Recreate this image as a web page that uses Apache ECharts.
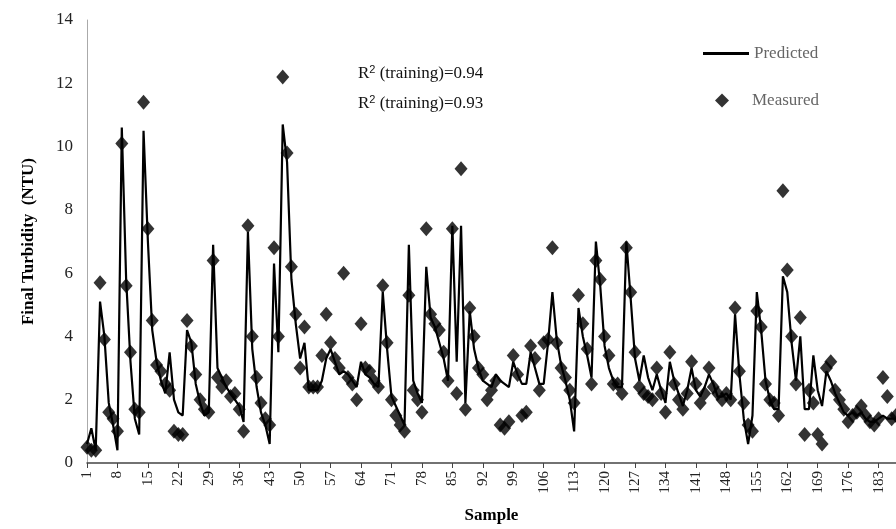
<!DOCTYPE html>
<html>
<head>
<meta charset="utf-8">
<script src="https://cdn.jsdelivr.net/npm/echarts@6/dist/echarts.min.js"></script>
<style>html,body{margin:0;padding:0;background:#fff}#c{width:896px;height:529px}</style>
</head>
<body>
<div id="c"></div>
<script>
// 实测值 (1..187)
let measured = [
    0.5,0.4,0.4,5.7,3.9,1.6,1.4,1.0,10.1,5.6,
    3.5,1.7,1.6,11.4,7.4,4.5,3.1,2.9,2.5,2.3,
    1.0,0.9,0.9,4.5,3.7,2.8,2.0,1.7,1.6,6.4,
    2.7,2.4,2.6,2.1,2.2,1.7,1.0,7.5,4.0,2.7,
    1.9,1.4,1.2,6.8,4.0,12.2,9.8,6.2,4.7,3.0,
    4.3,2.4,2.4,2.4,3.4,4.7,3.8,3.3,3.0,6.0,
    2.7,2.5,2.0,4.4,3.0,2.9,2.6,2.4,5.6,3.8,
    2.0,1.5,1.2,1.0,5.3,2.3,2.0,1.6,7.4,4.7,
    4.4,4.2,3.5,2.6,7.4,2.2,9.3,1.7,4.9,4.0,
    3.0,2.8,2.0,2.3,2.6,1.2,1.1,1.3,3.4,2.8,
    1.5,1.6,3.7,3.3,2.3,3.8,3.9,6.8,3.8,3.0,
    2.7,2.3,1.9,5.3,4.4,3.6,2.5,6.4,5.8,4.0,
    3.4,2.5,2.5,2.2,6.8,5.4,3.5,2.4,2.2,2.1,
    2.0,3.0,2.2,1.6,3.5,2.5,2.0,1.7,2.2,3.2,
    2.5,1.9,2.2,3.0,2.4,2.2,2.0,2.2,2.0,4.9,
    2.9,1.9,1.2,1.0,4.8,4.3,2.5,2.0,1.9,1.5,
    8.6,6.1,4.0,2.5,4.6,0.9,2.3,1.9,0.9,0.6,
    3.0,3.2,2.3,2.0,1.7,1.3,1.5,1.6,1.8,1.5,
    1.3,1.2,1.4,2.7,2.1,1.4,1.5
];
// 预测值
let predicted = [
    0.6,1.1,0.4,5.1,4.0,1.9,1.2,0.4,10.6,5.8,
    3.2,1.4,0.9,10.5,7.0,4.2,3.2,2.6,2.2,3.5,
    2.0,1.6,1.5,4.2,3.8,2.5,1.9,1.5,1.6,6.9,
    3.0,2.7,2.4,2.2,2.0,1.8,1.3,7.3,3.6,2.4,
    1.6,1.2,0.6,6.3,3.5,10.7,9.5,5.8,4.4,3.3,
    3.8,2.3,2.3,2.3,2.6,3.3,3.6,3.2,2.8,2.9,
    2.8,2.6,2.4,3.2,2.8,2.7,2.5,2.4,5.4,3.6,
    2.1,1.8,1.5,1.2,6.9,2.6,2.2,1.9,6.2,4.6,
    4.3,3.8,3.3,2.6,7.5,3.2,7.5,1.9,4.8,3.6,
    3.0,2.6,2.5,2.4,2.8,2.6,2.5,2.4,3.2,2.8,
    2.5,2.5,3.5,3.0,2.5,2.5,3.8,5.4,3.9,3.1,
    2.6,2.0,1.0,4.9,4.0,3.4,2.7,7.0,5.6,3.7,
    3.0,2.6,2.4,2.4,7.0,5.2,3.3,2.6,3.4,2.7,
    2.3,2.8,2.3,1.9,3.2,2.6,2.2,1.8,2.3,3.0,
    2.3,2.1,2.4,2.8,2.5,2.1,2.1,2.2,2.0,4.7,
    2.8,1.4,0.6,1.5,5.4,4.2,2.6,2.0,1.7,1.7,
    5.9,5.4,3.8,2.6,4.0,1.7,1.7,3.4,2.3,1.8,
    2.9,2.6,2.2,1.9,1.6,1.5,1.6,1.5,1.6,1.4,
    1.3,1.3,1.4,1.5,1.4,1.4,1.4
];
let samples = measured.map((v, i) => String(i + 1));

let chart = echarts.init(document.getElementById('c'));
let font = 'Liberation Serif';
let legendText = { fontFamily: font, fontSize: 17, color: '#666' };
let option = {
    backgroundColor: '#fff',
    animation: false,
    textStyle: { fontFamily: font },
    grid: { left: 87, right: 0, top: 20, bottom: 61 },
    legend: [{
        left: 698, top: 40, itemWidth: 46, itemHeight: 3, itemGap: 2,
        icon: 'rect', textStyle: legendText, data: ['Predicted']
    }, {
        left: 710, top: 87, itemWidth: 14, itemHeight: 14, itemGap: 2,
        icon: 'diamond', textStyle: Object.assign({}, legendText, { padding: [0, 0, 0, 18] }), data: ['Measured']
    }],
    graphic: [
        { type: 'text', left: 358, top: 64, style: { rich: { s: { fontSize: 11, verticalAlign: 'top', padding: [0, 0, 8, 0] } }, text: 'R{s|2} (training)=0.94', fontFamily: font, fontSize: 17, fill: '#111' } },
        { type: 'text', left: 358, top: 94, style: { rich: { s: { fontSize: 11, verticalAlign: 'top', padding: [0, 0, 8, 0] } }, text: 'R{s|2} (training)=0.93', fontFamily: font, fontSize: 17, fill: '#111' } }
    ],
    xAxis: {
        type: 'category', data: samples, boundaryGap: false,
        name: 'Sample', nameLocation: 'middle', nameGap: 44,
        nameTextStyle: { fontFamily: font, fontSize: 17, fontWeight: 'bold', color: '#000' },
        axisLine: { lineStyle: { color: '#444', width: 1.5 } },
        axisTick: { show: true, interval: 6, lineStyle: { color: '#444' } },
        axisLabel: { interval: 6, rotate: 90, fontSize: 15, color: '#222', fontFamily: font }
    },
    yAxis: {
        type: 'value', min: 0, max: 14, interval: 2,
        name: 'Final Turbidity  (NTU)', nameLocation: 'middle', nameGap: 50,
        nameTextStyle: { fontFamily: font, fontSize: 17, fontWeight: 'bold', color: '#000' },
        axisLine: { show: true, lineStyle: { color: '#aaa' } },
        axisTick: { show: false },
        splitLine: { show: false },
        axisLabel: { fontSize: 17, color: '#222', fontFamily: font, margin: 14 }
    },
    series: [
        {
            name: 'Predicted', type: 'line', data: predicted,
            showSymbol: false, symbol: 'none',
            lineStyle: { color: '#000', width: 2.2 },
            itemStyle: { color: '#000' }
        },
        {
            name: 'Measured', type: 'scatter', data: measured,
            symbol: 'diamond', symbolSize: [13, 15],
            itemStyle: { color: '#000' }
        }
    ]
};
chart.setOption(option);
</script>
</body>
</html>
